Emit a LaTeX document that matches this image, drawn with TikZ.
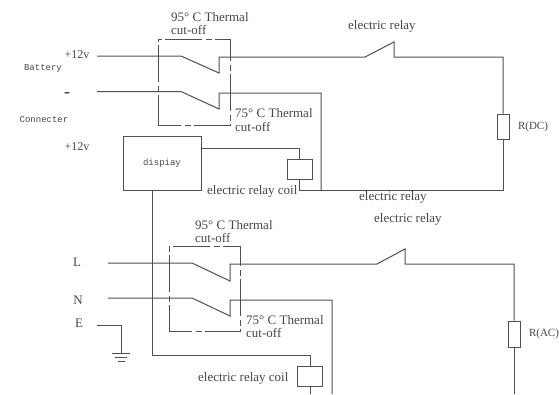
\documentclass[tikz,border=0pt]{standalone}
\usepackage{fontspec}
\setmainfont{Liberation Serif}
\setmonofont{Liberation Mono}
\usetikzlibrary{positioning}
\definecolor{mywire}{RGB}{80,80,80}
\definecolor{mytext}{RGB}{70,70,70}

\begin{document}
\begin{tikzpicture}[x=1pt,y=-1pt,
  wire/.style={draw=mywire,line width=1pt},
  cutbox/.style={draw=mywire,line width=1pt,dash pattern=on 37pt off 3.5pt on 6pt off 3.5pt,dash phase=14pt,minimum width=72pt,minimum height=86pt,inner sep=0pt},
  partbox/.style={draw=mywire,line width=1pt,inner sep=0pt},
  txt/.style={text=mytext,font=\fontsize{13}{15}\selectfont,inner sep=0pt,anchor=west},
  mono/.style={text=mytext,font=\ttfamily\fontsize{9}{11}\selectfont,inner sep=0pt}
]
\useasboundingbox (0,0) rectangle (559,394);

% the boxes
\node[cutbox] (cutA) at (194,82) {};
\node[cutbox,minimum width=71pt,minimum height=85pt] (cutB) at (204.5,288.5) {};
\node[partbox,minimum width=78pt,minimum height=54pt] (disp) at (162,163) {};
\node[partbox,minimum width=25pt,minimum height=20pt] (coilA) at (299.5,169) {};
\node[partbox,minimum width=25pt,minimum height=20pt] (coilB) at (310,376) {};
\node[partbox,minimum width=12pt,minimum height=25pt,label={[mytext,font=\fontsize{11}{13}\selectfont,label distance=5pt]right:R(DC)}] (resA) at (503,126.5) {};
\node[partbox,minimum width=12pt,minimum height=26pt,label={[mytext,font=\fontsize{11}{13}\selectfont,label distance=5pt]right:R(AC)}] (resB) at (514,334) {};

% the texts of the battery side
\node[mono] (dispText) at (162,163) {dispiay};
\node[mono] (battery) at (43,68) {Battery};
\node[mono] (connecter) at (44,120) {Connecter};
\node[txt,anchor=center,font=\fontsize{12}{14}\selectfont] (plusA) at (77,55) {+12v};
\node[txt,anchor=center,font=\bfseries\fontsize{18}{18}\selectfont] (minus) at (67,95) {-};
\node[txt,anchor=center,font=\fontsize{12}{14}\selectfont] (plusB) at (77,147) {+12v};
\node[txt] (hotA) at (171,17) {95° C Thermal};
\node[txt] (hotAb) at (171,30) {cut-off};
\node[txt] (warmA) at (235,113) {75° C Thermal};
\node[txt] (warmAb) at (235,127) {cut-off};
\node[txt] (coilTextA) at (207,191) {electric relay coil};
\node[txt] (relayA) at (348,26) {electric relay};
\node[txt] (relayB) at (359,197) {electric relay};

% the texts of the mains side
\node[txt] (relayC) at (374,219) {electric relay};
\node[txt] (hotB) at (195,225) {95° C Thermal};
\node[txt] (hotBb) at (195,238) {cut-off};
\node[txt] (warmB) at (246,320) {75° C Thermal};
\node[txt] (warmBb) at (246,333) {cut-off};
\node[txt] (coilTextB) at (198,378) {electric relay coil};
\node[txt,anchor=center] (lineL) at (77,262) {L};
\node[txt,anchor=center] (lineN) at (78,300) {N};
\node[txt,anchor=center] (lineE) at (79,323) {E};

% the free ends
\coordinate (inA) at (97,56);
\coordinate (inB) at (97,91.5);
\coordinate (inL) at (108,263);
\coordinate (inN) at (108,298);
\coordinate (inE) at (97,325);
\coordinate (gnd) at (121,353);
\coordinate (dispOut) at (152,190);
\coordinate (turnA) at (299.5,190);
\coordinate (endA) at (310,394);
\coordinate (endB) at (332,394);
\coordinate (endC) at (514,394);

% the battery side
\draw[wire] (inA) -- (181,56) -- (219,73) -- (219,57) -- (365,57) -- (394,42) -- (394,57) -| (resA.north);
\draw[wire] (inB) -- (181,91.5) -- (219,109) -- (219,93) -| (321,190);
\draw[wire] (resA.south) |- (turnA) -- (coilA.south);
\draw[wire] (201,148) -| (coilA.north);

% the mains side
\draw[wire] (inL) -- (192,263) -- (230,281) -- (230,264) -- (377,264) -- (405,249) -- (405,264) -| (resB.north);
\draw[wire] (inN) -- (192,298) -- (230,316) -- (230,300) -| (endB);
\draw[wire] (resB.south) -- (endC);
\draw[wire] (dispOut) |- (310,355) -- (coilB.north);
\draw[wire] (coilB.south) -- (endA);

% the earth
\draw[wire] (inE) -| (gnd);
\draw[wire] (112,353) -- (130,353);
\draw[wire] (115,357.5) -- (127,357.5);
\draw[wire] (118,361.5) -- (125,361.5);
\end{tikzpicture}
\end{document}
